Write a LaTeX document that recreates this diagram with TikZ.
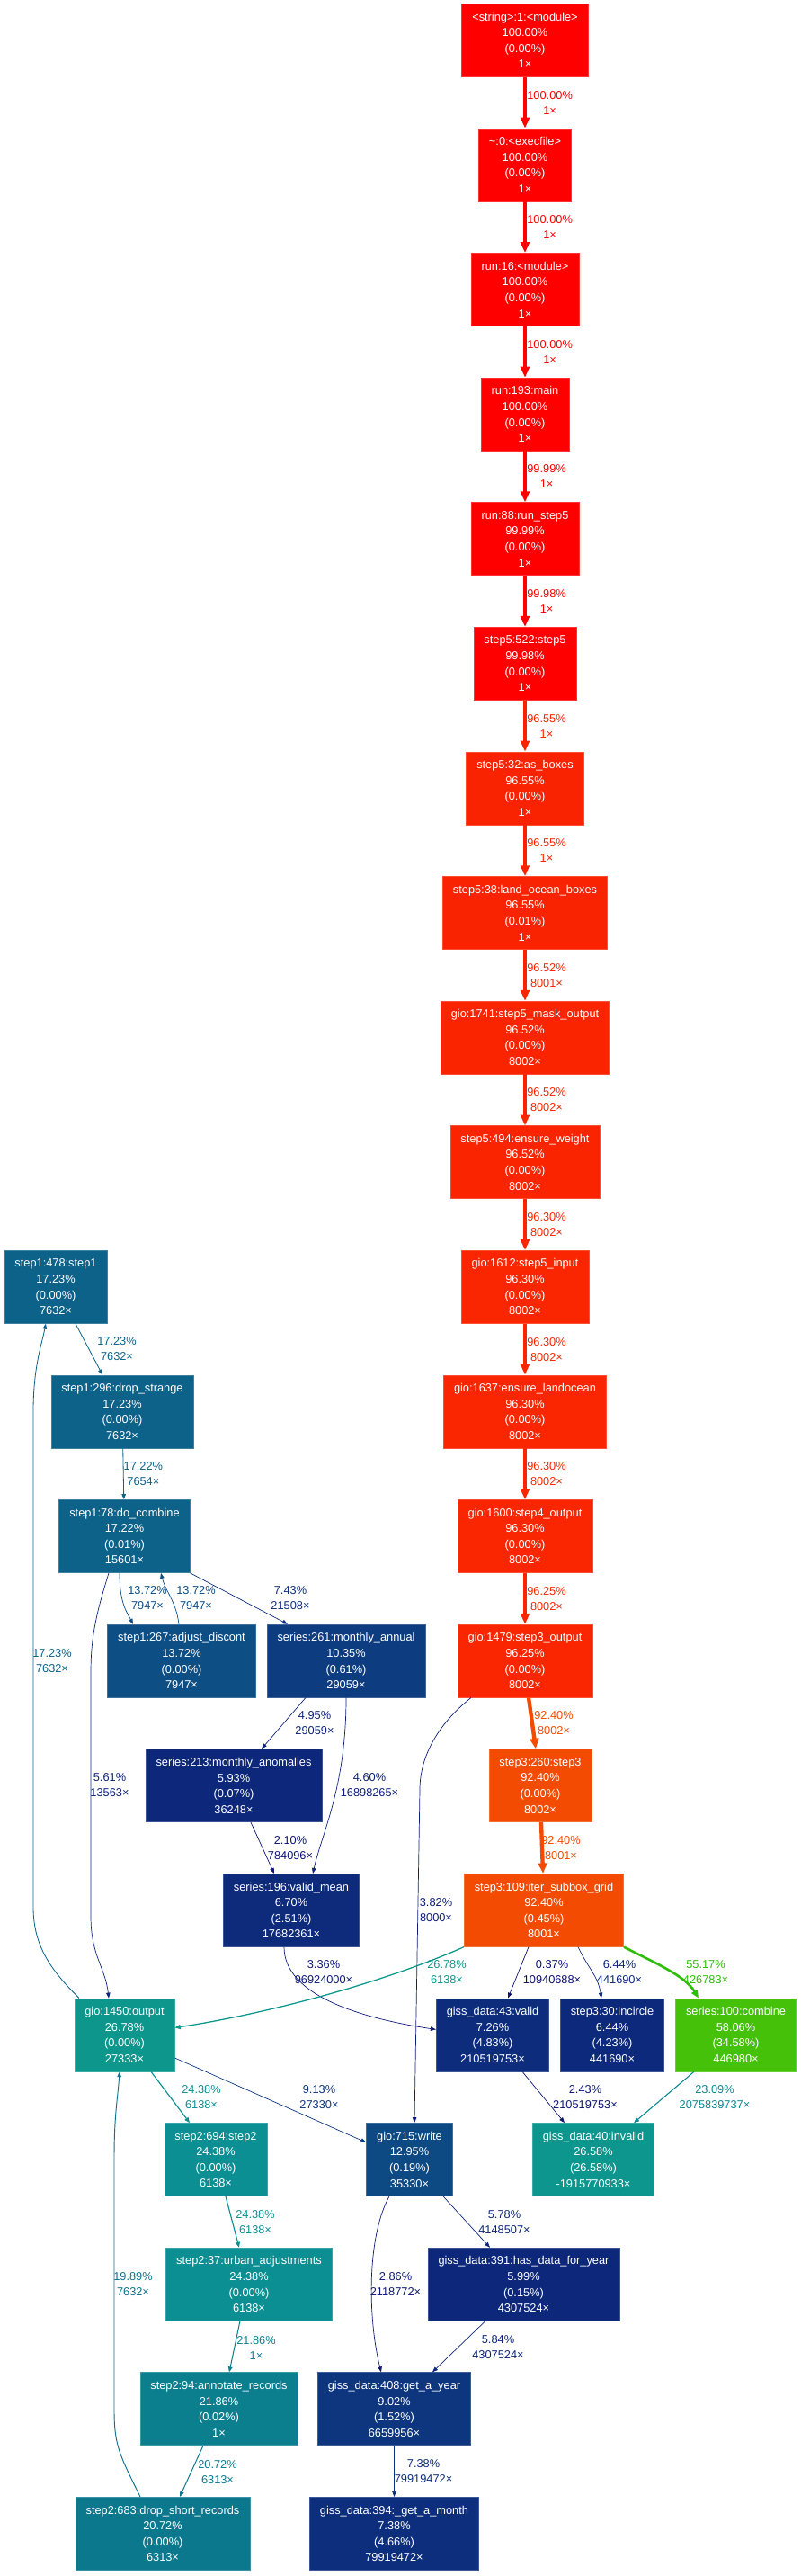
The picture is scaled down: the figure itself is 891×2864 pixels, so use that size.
\documentclass[tikz,border=0pt]{standalone}
\usepackage{fontspec}
\setmainfont{Liberation Sans}
\usetikzlibrary{arrows.meta}

% colours of the profile, by share of the total time
\definecolor{c100}{HTML}{FF0000}
\definecolor{c9655}{HTML}{FA2301}
\definecolor{c9652}{HTML}{FA2401}
\definecolor{c963}{HTML}{F92601}
\definecolor{c9240}{HTML}{F34B02}
\definecolor{c5806}{HTML}{44C108}
\definecolor{c5517}{HTML}{2EBD09}
\definecolor{c2678}{HTML}{0C968C}
\definecolor{c2658}{HTML}{0C968D}
\definecolor{c2438}{HTML}{0C8F93}
\definecolor{c2309}{HTML}{0C8791}
\definecolor{c2186}{HTML}{0C7F8F}
\definecolor{c2072}{HTML}{0C788E}
\definecolor{c1989}{HTML}{0C728D}
\definecolor{c1723}{HTML}{0C6289}
\definecolor{c1372}{HTML}{0D4E84}
\definecolor{c1295}{HTML}{0D4A83}
\definecolor{c1035}{HTML}{0D3C80}
\definecolor{c913}{HTML}{0D367E}
\definecolor{c743}{HTML}{0D2E7C}
\definecolor{c726}{HTML}{0D2D7C}
\definecolor{c670}{HTML}{0D2A7B}
\definecolor{c644}{HTML}{0D297B}
\definecolor{c599}{HTML}{0D277A}
\definecolor{c584}{HTML}{0D267A}
\definecolor{c561}{HTML}{0D257A}
\definecolor{c495}{HTML}{0D2279}
\definecolor{c460}{HTML}{0D2179}
\definecolor{c382}{HTML}{0D1D78}
\definecolor{c336}{HTML}{0D1B77}
\definecolor{c286}{HTML}{0D1976}
\definecolor{c243}{HTML}{0D1776}
\definecolor{c210}{HTML}{0D1675}
\definecolor{c037}{HTML}{0D0E73}

\newcommand\nodefont{\fontsize{12.8}{17.6}\selectfont}
\newcommand\edgefont{\fontsize{12.8}{17}\selectfont}

\tikzset{
  fn/.style={fill=#1, draw=#1!80!white, line width=0.7pt, text=white, align=center,
    font=\nodefont, minimum height=81pt, inner xsep=11.5pt, inner ysep=0pt},
  elabel/.style={text=#1, align=center, inner sep=0pt, font=\edgefont},
  callarrow/.style 2 args={draw=#1,
    /utils/exec={\pgfmathsetmacro\callpw{max(8*#2,0.5)}%
      \pgfmathsetmacro\calllw{max(0.59*\callpw,0.7)}%
      \pgfmathsetmacro\callal{max(4.25*sqrt(\callpw),6)}%
      \pgfmathsetmacro\callaw{max(3.5*sqrt(\callpw),4.5)}},
    line width=\calllw pt,
    -{Triangle[length=\callal pt,width=\callaw pt]}},
}

\begin{document}
\begin{tikzpicture}[x=1pt, y=-1pt]
  \path[use as bounding box, fill=white] (0,0) rectangle (891,2864);

  % main chain
  \node[fn=c100] (str) at (584,44.8) {<string>:1:<module>\\100.00\%\\(0.00\%)\\1×};
  \node[fn=c100] (exe) at (584,183.4) {\textasciitilde:0:<execfile>\\100.00\%\\(0.00\%)\\1×};
  \node[fn=c100] (run16) at (584,322.0) {run:16:<module>\\100.00\%\\(0.00\%)\\1×};
  \node[fn=c100] (main) at (584,460.6) {run:193:main\\100.00\%\\(0.00\%)\\1×};
  \node[fn=c100] (runstep5) at (584,599.2) {run:88:run\_step5\\99.99\%\\(0.00\%)\\1×};
  \node[fn=c100] (step5) at (584,737.8) {step5:522:step5\\99.98\%\\(0.00\%)\\1×};
  \node[fn=c9655] (asboxes) at (584,876.4) {step5:32:as\_boxes\\96.55\%\\(0.00\%)\\1×};
  \node[fn=c9655] (landocean) at (584,1015.0) {step5:38:land\_ocean\_boxes\\96.55\%\\(0.01\%)\\1×};
  \node[fn=c9652] (maskout) at (584,1153.6) {gio:1741:step5\_mask\_output\\96.52\%\\(0.00\%)\\8002×};
  \node[fn=c9652] (weight) at (584,1292.2) {step5:494:ensure\_weight\\96.52\%\\(0.00\%)\\8002×};
  \node[fn=c963] (s5input) at (584,1430.8) {gio:1612:step5\_input\\96.30\%\\(0.00\%)\\8002×};
  \node[fn=c963] (landoc) at (584,1569.4) {gio:1637:ensure\_landocean\\96.30\%\\(0.00\%)\\8002×};
  \node[fn=c963] (s4out) at (584,1708.0) {gio:1600:step4\_output\\96.30\%\\(0.00\%)\\8002×};
  \node[fn=c963] (s3out) at (584,1846.6) {gio:1479:step3\_output\\96.25\%\\(0.00\%)\\8002×};
  \node[fn=c9240] (step3) at (601,1985.2) {step3:260:step3\\92.40\%\\(0.00\%)\\8002×};
  \node[fn=c9240] (subbox) at (605,2123.8) {step3:109:iter\_subbox\_grid\\92.40\%\\(0.45\%)\\8001×};
  \node[fn=c726] (valid) at (548,2262.4) {giss\_data:43:valid\\7.26\%\\(4.83\%)\\210519753×};
  \node[fn=c644] (incircle) at (681,2262.4) {step3:30:incircle\\6.44\%\\(4.23\%)\\441690×};
  \node[fn=c5806] (scombine) at (818.5,2262.4) {series:100:combine\\58.06\%\\(34.58\%)\\446980×};
  \node[fn=c2658] (invalid) at (660,2401.0) {giss\_data:40:invalid\\26.58\%\\(26.58\%)\\-1915770933×};

  % step1 and series
  \node[fn=c1723] (step1) at (62,1430.8) {step1:478:step1\\17.23\%\\(0.00\%)\\7632×};
  \node[fn=c1723] (strange) at (136,1569.4) {step1:296:drop\_strange\\17.23\%\\(0.00\%)\\7632×};
  \node[fn=c1723] (combine1) at (138.5,1708.0) {step1:78:do\_combine\\17.22\%\\(0.01\%)\\15601×};
  \node[fn=c1372] (discont) at (202,1846.6) {step1:267:adjust\_discont\\13.72\%\\(0.00\%)\\7947×};
  \node[fn=c1035] (annual) at (385,1846.6) {series:261:monthly\_annual\\10.35\%\\(0.61\%)\\29059×};
  \node[fn=c599] (anomalies) at (260,1985.2) {series:213:monthly\_anomalies\\5.93\%\\(0.07\%)\\36248×};
  \node[fn=c670] (validmean) at (324,2123.8) {series:196:valid\_mean\\6.70\%\\(2.51\%)\\17682361×};

  % output, step2 and write
  \node[fn=c2678] (output) at (138.5,2262.4) {gio:1450:output\\26.78\%\\(0.00\%)\\27333×};
  \node[fn=c2438] (step2) at (240,2401.0) {step2:694:step2\\24.38\%\\(0.00\%)\\6138×};
  \node[fn=c1295] (write) at (455.5,2401.0) {gio:715:write\\12.95\%\\(0.19\%)\\35330×};
  \node[fn=c2438] (urban) at (277,2539.6) {step2:37:urban\_adjustments\\24.38\%\\(0.00\%)\\6138×};
  \node[fn=c599] (hasdata) at (582.5,2539.6) {giss\_data:391:has\_data\_for\_year\\5.99\%\\(0.15\%)\\4307524×};
  \node[fn=c2186] (annotate) at (243.5,2678.2) {step2:94:annotate\_records\\21.86\%\\(0.02\%)\\1×};
  \node[fn=c913] (getyear) at (438.5,2678.2) {giss\_data:408:get\_a\_year\\9.02\%\\(1.52\%)\\6659956×};
  \node[fn=c2072] (dropshort) at (181,2816.8) {step2:683:drop\_short\_records\\20.72\%\\(0.00\%)\\6313×};
  \node[fn=c743] (getmonth) at (438.5,2816.8) {giss\_data:394:\_get\_a\_month\\7.38\%\\(4.66\%)\\79919472×};

  % straight calls, label beside the line
  \foreach \src/\dst/\col/\w/\pct/\cnt [count=\i] in {
      str/exe/c100/1/100.00/1, exe/run16/c100/1/100.00/1,
      run16/main/c100/1/100.00/1, main/runstep5/c100/0.9999/99.99/1,
      runstep5/step5/c100/0.9998/99.98/1, step5/asboxes/c9655/0.9655/96.55/1,
      asboxes/landocean/c9655/0.9655/96.55/1, landocean/maskout/c9652/0.9652/96.52/8001,
      maskout/weight/c9652/0.9652/96.52/8002, weight/s5input/c963/0.963/96.30/8002,
      s5input/landoc/c963/0.963/96.30/8002, landoc/s4out/c963/0.963/96.30/8002,
      s4out/s3out/c963/0.9625/96.25/8002, strange/combine1/c1723/0.1722/17.22/7654,
      getyear/getmonth/c743/0.0738/7.38/79919472}
    \draw[callarrow={\col}{\w}] (\src) -- node[elabel=\col, right] (lv\i) {\pct\%\\\cnt×} (\dst);

  % other calls
  \draw[callarrow={c9240}{0.924}] ([xshift=4pt]s3out.south) -- ([xshift=-5pt]step3.north);
  \draw[callarrow={c9240}{0.924}] ([xshift=1pt]step3.south) -- ([xshift=-1pt]subbox.north);
  \draw[callarrow={c1723}{0.1723}] ([xshift=22pt]step1.south) -- ([xshift=-22pt]strange.north);
  \draw[callarrow={c1372}{0.1372}] ([xshift=-5.5pt]combine1.south) .. controls +(0,35) and +(-6,-12) .. ([xshift=-54pt]discont.north);
  \draw[callarrow={c1372}{0.1372}] ([xshift=-3pt]discont.north) .. controls +(-3,-25) and +(5,20) .. ([xshift=40.5pt]combine1.south);
  \draw[callarrow={c743}{0.0743}] (combine1.south east) -- ([xshift=-65pt]annual.north);
  \draw[callarrow={c561}{0.0561}] ([xshift=-17.5pt]combine1.south) .. controls +(-14,45) and +(0,-40) .. (101,1860)
    -- (101,2130) .. controls +(0,45) and +(-4,-35) .. ([xshift=-17.5pt]output.north);
  \draw[callarrow={c1723}{0.1723}] ([xshift=-50.5pt]output.north) .. controls +(-30,-30) and +(0,45) .. (37,2120)
    -- (37,1570) .. controls +(0,-50) and +(-5,25) .. ([xshift=-11pt]step1.south);
  \draw[callarrow={c495}{0.0495}] ([xshift=-45pt]annual.south) -- ([xshift=31pt]anomalies.north);
  \draw[callarrow={c460}{0.046}] (annual.south) .. controls +(0,100) and +(10,-45) .. ([xshift=24pt]validmean.north);
  \draw[callarrow={c210}{0.021}] ([xshift=19pt]anomalies.south) -- ([xshift=-19pt]validmean.north);
  \draw[callarrow={c336}{0.0336}] ([xshift=-8pt]validmean.south) .. controls +(0,55) and +(-80,-12) .. ([yshift=6pt]valid.west);
  \draw[callarrow={c382}{0.0382}] ([xshift=-60pt]s3out.south) .. controls +(-34,27) and +(0,-40) .. (467,1990)
    -- ([xshift=5.5pt]write.north);
  \draw[callarrow={c2678}{0.2678}] (subbox.south west) .. controls +(-90,40) and +(100,-15) .. ([yshift=8pt]output.east);
  \draw[callarrow={c037}{0.0037}] ([xshift=-17pt]subbox.south) -- ([xshift=17pt]valid.north);
  \draw[callarrow={c644}{0.0644}] ([xshift=38pt]subbox.south) .. controls +(12,25) and +(-4,-25) .. ([xshift=-12pt]incircle.north);
  \draw[callarrow={c5517}{0.5517}] (subbox.south east) .. controls +(35,18) and +(-15,-25) .. ([xshift=-41.5pt]scombine.north);
  \draw[callarrow={c243}{0.0243}] ([xshift=33pt]valid.south) -- ([xshift=-32pt]invalid.north);
  \draw[callarrow={c2309}{0.2309}] ([xshift=-46.5pt]scombine.south) -- ([xshift=45pt]invalid.north);
  \draw[callarrow={c2438}{0.2438}] ([xshift=29.5pt]output.south) -- ([xshift=-29pt]step2.north);
  \draw[callarrow={c913}{0.0913}] ([yshift=-25.6pt]output.east) -- ([yshift=19pt]write.west);
  \draw[callarrow={c2438}{0.2438}] ([xshift=11pt]step2.south) -- ([xshift=-11pt]urban.north);
  \draw[callarrow={c2186}{0.2186}] ([xshift=-10pt]urban.south) -- ([xshift=11.5pt]annotate.north);
  \draw[callarrow={c2072}{0.2072}] ([xshift=-17.5pt]annotate.south) -- ([xshift=19pt]dropshort.north);
  \draw[callarrow={c1989}{0.1989}] ([xshift=-25pt]dropshort.north) .. controls +(-22,-45) and +(0,40) .. (127,2680)
    -- (127,2400) .. controls +(0,-50) and +(-2,30) .. ([xshift=-5.5pt]output.south);
  \draw[callarrow={c286}{0.0286}] ([xshift=-22.5pt]write.south) .. controls +(-25,45) and +(-15,-60) .. ([xshift=-14.5pt]getyear.north);
  \draw[callarrow={c584}{0.0578}] ([xshift=37.5pt]write.south) -- ([xshift=-37.5pt]hasdata.north);
  \draw[callarrow={c584}{0.0584}] ([xshift=-42.5pt]hasdata.south) -- ([xshift=42.5pt]getyear.north);

  % labels of the other calls
  \foreach \nm/\x/\y/\col/\pct/\cnt in {
      l14/616/1916/c9240/92.40/8002, l15/624/2055/c9240/92.40/8001,
      l16/130/1500/c1723/17.23/7632, l18/164/1777/c1372/13.72/7947,
      l19/218/1777/c1372/13.72/7947, l20/323/1777/c743/7.43/21508,
      l21/122/1985/c561/5.61/13563, l22/58/1847/c1723/17.23/7632,
      l23/350/1916/c495/4.95/29059, l24/411/1985/c460/4.60/16898265,
      l25/323/2055/c210/2.10/784096, l26/360/2193/c336/3.36/96924000,
      l27/485/2124/c382/3.82/8000, l28/497/2193/c2678/26.78/6138,
      l29/614/2193/c037/0.37/10940688, l30/689/2193/c644/6.44/441690,
      l31/785/2193/c5517/55.17/426783, l32/651/2332/c243/2.43/210519753,
      l33/795/2332/c2309/23.09/2075839737, l34/224/2332/c2438/24.38/6138,
      l35/355/2332/c913/9.13/27330, l36/284/2471/c2438/24.38/6138,
      l37/285/2610/c2186/21.86/1, l38/242/2749/c2072/20.72/6313,
      l39/148/2540/c1989/19.89/7632, l40/440/2540/c286/2.86/2118772,
      l41/561/2471/c584/5.78/4148507, l42/554/2610/c584/5.84/4307524}
    \node[elabel=\col] (\nm) at (\x,\y) {\pct\%\\\cnt×};
\end{tikzpicture}
\end{document}
